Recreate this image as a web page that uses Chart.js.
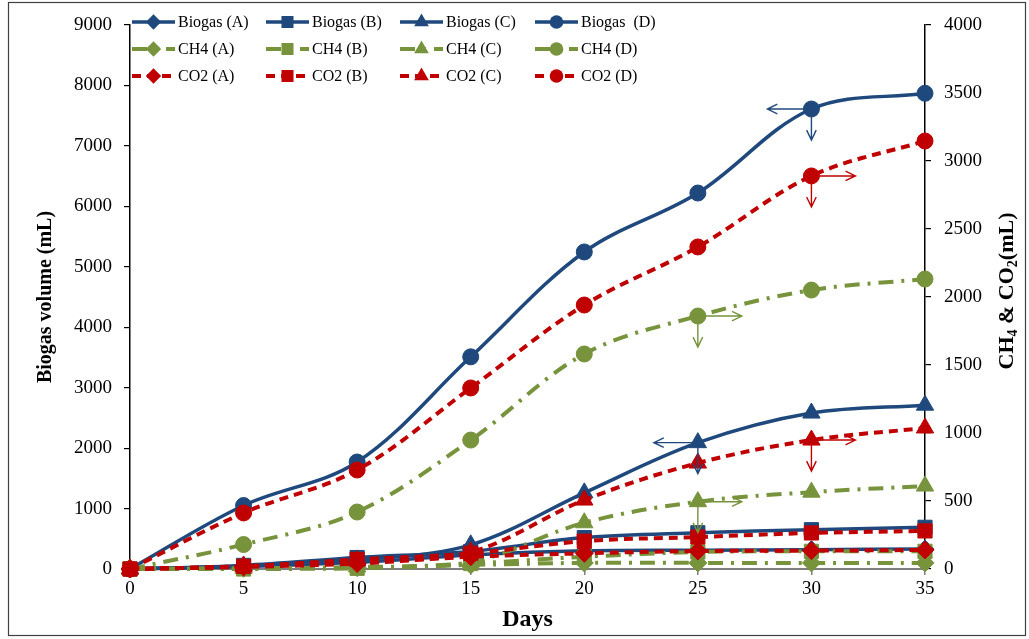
<!DOCTYPE html>
<html>
<head>
<meta charset="utf-8">
<title>Biogas, CH4 and CO2 production</title>
<script src="https://cdn.jsdelivr.net/npm/chart.js@4/dist/chart.umd.min.js"></script>
<style>
  html, body { margin: 0; padding: 0; background: #fff; }
  #wrap { position: relative; width: 1029px; height: 639px; }
</style>
</head>
<body>
<div id="wrap"><canvas id="c" width="1029" height="639"></canvas></div>
<script>
// Cumulative volumes (mL) by day of digestion
const days = [0, 5, 10, 15, 20, 25, 30, 35];

const biogasA = [0, 40, 110, 230, 300, 310, 320, 330];
const biogasB = [0, 60, 190, 290, 520, 600, 650, 690];
const biogasC = [0, 50, 150, 400, 1260, 2090, 2580, 2710];
const biogasD = [0, 1050, 1770, 3510, 5245, 6220, 7610, 7870];

const ch4A = [0, 5, 10, 30, 45, 45, 45, 45];
const ch4B = [0, 0, 5, 40, 90, 125, 130, 130];
const ch4C = [0, 5, 15, 50, 340, 495, 565, 610];
const ch4D = [0, 180, 419, 948, 1581, 1860, 2051, 2132];

const co2A = [0, 15, 40, 90, 115, 132, 135, 140];
const co2B = [0, 20, 70, 115, 205, 235, 265, 280];
const co2C = [0, 20, 60, 125, 507, 779, 948, 1037];
const co2D = [0, 412, 728, 1331, 1941, 2368, 2890, 3147];

const dayTicks = [0, 5, 10, 15, 20, 25, 30, 35];

const FONT = "'Liberation Serif', 'Times New Roman', serif";
const BLUE = '#1F497D';
const GREEN = '#77933C';
const RED = '#C00000';

const gasStyles = {
  biogas: { color: BLUE, dash: [], width: 3.5, axis: 'y', order: 3 },
  ch4: { color: GREEN, dash: [15, 8, 3, 8], width: 4, axis: 'y2', order: 2 },
  co2: { color: RED, dash: [9, 6], width: 4, axis: 'y2', order: 1 }
};
const markers = {
  A: { style: 'rectRot', r: 9 },
  B: { style: 'rect', r: 10 },
  C: { style: 'triangle', r: 10 },
  D: { style: 'circle', r: 8 }
};

function series(label, gas, key, values) {
  const g = gasStyles[gas], m = markers[key];
  return {
    label: label,
    data: days.map((d, i) => ({ x: d, y: values[i] })),
    yAxisID: g.axis,
    order: g.order,
    borderColor: g.color,
    backgroundColor: g.color,
    borderWidth: g.width,
    borderDash: g.dash,
    tension: 0.35,
    pointStyle: m.style,
    pointRadius: m.r,
    pointHoverRadius: m.r,
    pointBackgroundColor: g.color,
    pointBorderColor: g.color,
    pointBorderWidth: 1,
    clip: false,
    fill: false
  };
}

const datasets = [
  series('Biogas (A)', 'biogas', 'A', biogasA),
  series('Biogas (B)', 'biogas', 'B', biogasB),
  series('Biogas (C)', 'biogas', 'C', biogasC),
  series('Biogas  (D)', 'biogas', 'D', biogasD),
  series('CH4 (A)', 'ch4', 'A', ch4A),
  series('CH4 (B)', 'ch4', 'B', ch4B),
  series('CH4 (C)', 'ch4', 'C', ch4C),
  series('CH4 (D)', 'ch4', 'D', ch4D),
  series('CO2 (A)', 'co2', 'A', co2A),
  series('CO2 (B)', 'co2', 'B', co2B),
  series('CO2 (C)', 'co2', 'C', co2C),
  series('CO2 (D)', 'co2', 'D', co2D)
];

// Pointers showing which axis a curve is read against
const axisPointers = [
  { label: 'Biogas  (D)', day: 30, dirs: ['left', 'down'] },
  { label: 'CO2 (D)', day: 30, dirs: ['right', 'down'] },
  { label: 'CH4 (D)', day: 25, dirs: ['right', 'down'] },
  { label: 'Biogas (C)', day: 25, dirs: ['left', 'down'] },
  { label: 'CO2 (C)', day: 30, dirs: ['right', 'down'] },
  { label: 'CH4 (C)', day: 25, dirs: ['right', 'down'] }
];

function drawMarker(ctx, style, x, y, r, color) {
  ctx.save();
  ctx.fillStyle = color;
  ctx.beginPath();
  if (style === 'circle') {
    ctx.arc(x, y, r, 0, Math.PI * 2);
  } else if (style === 'rect') {
    const s = r * Math.SQRT1_2;
    ctx.rect(x - s, y - s, 2 * s, 2 * s);
  } else if (style === 'rectRot') {
    ctx.moveTo(x, y - r); ctx.lineTo(x + r, y); ctx.lineTo(x, y + r); ctx.lineTo(x - r, y);
    ctx.closePath();
  } else if (style === 'triangle') {
    ctx.moveTo(x, y - r);
    ctx.lineTo(x + 0.866 * r, y + 0.5 * r);
    ctx.lineTo(x - 0.866 * r, y + 0.5 * r);
    ctx.closePath();
  }
  ctx.fill();
  ctx.restore();
}

const framePlugin = {
  id: 'frame',
  beforeDraw(chart) {
    const ctx = chart.ctx;
    ctx.save();
    ctx.fillStyle = '#fff';
    ctx.fillRect(0, 0, chart.width, chart.height);
    ctx.strokeStyle = '#404040';
    ctx.lineWidth = 1.2;
    ctx.strokeRect(8.5, 2.5, 1017, 633);
    ctx.restore();
  }
};

const pointerPlugin = {
  id: 'pointers',
  afterDatasetsDraw(chart) {
    const ctx = chart.ctx;
    ctx.save();
    ctx.lineWidth = 1.4;
    axisPointers.forEach(p => {
      const di = chart.data.datasets.findIndex(d => d.label === p.label);
      const idx = days.indexOf(p.day);
      const pt = chart.getDatasetMeta(di).data[idx];
      const color = chart.data.datasets[di].borderColor;
      ctx.strokeStyle = color;
      p.dirs.forEach(dir => {
        let dx = 0, dy = 0;
        if (dir === 'left') dx = -44;
        if (dir === 'right') dx = 44;
        if (dir === 'down') dy = 31;
        const tx = pt.x + dx, ty = pt.y + dy;
        const ang = Math.atan2(dy, dx);
        ctx.beginPath();
        ctx.moveTo(pt.x, pt.y);
        ctx.lineTo(tx, ty);
        ctx.moveTo(tx - 11 * Math.cos(ang - 0.45), ty - 11 * Math.sin(ang - 0.45));
        ctx.lineTo(tx, ty);
        ctx.lineTo(tx - 11 * Math.cos(ang + 0.45), ty - 11 * Math.sin(ang + 0.45));
        ctx.stroke();
      });
    });
    ctx.restore();
  }
};

const legendPlugin = {
  id: 'gridLegend',
  afterDraw(chart) {
    const ctx = chart.ctx;
    const area = chart.chartArea;
    const colX = [2, 136, 270, 405];
    const rowY = [22, 49, 76];
    ctx.save();
    chart.data.datasets.forEach((ds, i) => {
      const col = i % 4, row = Math.floor(i / 4);
      const x0 = area.left + colX[col];
      const y = rowY[row];
      ctx.save();
      ctx.strokeStyle = ds.borderColor;
      ctx.lineWidth = ds.borderWidth;
      ctx.setLineDash(ds.borderDash);
      ctx.beginPath();
      ctx.moveTo(x0, y);
      ctx.lineTo(x0 + 43, y);
      ctx.stroke();
      ctx.restore();
      drawMarker(ctx, ds.pointStyle, x0 + 21.5, y, ds.pointRadius * 0.85, ds.borderColor);
      ctx.fillStyle = '#000';
      ctx.font = '16px ' + FONT;
      ctx.textBaseline = 'middle';
      ctx.textAlign = 'left';
      ctx.fillText(ds.label, x0 + 46, y + 1);
    });
    ctx.restore();
  }
};

// Right-hand axis title with subscripts, reading bottom to top
const rightTitlePlugin = {
  id: 'rightTitle',
  afterDraw(chart) {
    const ctx = chart.ctx;
    const parts = [
      ['CH', false], ['4', true], [' & CO', false], ['2', true], ['(mL)', false]
    ];
    const big = 'bold 22px ' + FONT, small = 'bold 14px ' + FONT;
    let total = 0;
    parts.forEach(p => { ctx.font = p[1] ? small : big; total += ctx.measureText(p[0]).width; });
    ctx.save();
    ctx.translate(1006, 291);
    ctx.rotate(-Math.PI / 2);
    ctx.fillStyle = '#000';
    ctx.textBaseline = 'alphabetic';
    ctx.textAlign = 'left';
    let x = -total / 2;
    parts.forEach(p => {
      ctx.font = p[1] ? small : big;
      ctx.fillText(p[0], x, p[1] ? 11 : 7);
      x += ctx.measureText(p[0]).width;
    });
    ctx.restore();
  }
};

const plainNumber = v => String(v);

new Chart(document.getElementById('c'), {
  type: 'line',
  data: { datasets: datasets },
  options: {
    responsive: false,
    animation: false,
    devicePixelRatio: 1,
    layout: { padding: { top: 25, left: 0, right: 0, bottom: 0 } },
    plugins: {
      legend: { display: false },
      tooltip: { enabled: false },
      title: { display: false }
    },
    scales: {
      x: {
        type: 'linear',
        min: 0, max: 35,
        afterFit(s) { s.height = 70; },
        afterBuildTicks(s) { s.ticks = dayTicks.map(v => ({ value: v })); },
        ticks: { font: { family: FONT, size: 19 }, color: '#000', padding: 3, maxRotation: 0, callback: plainNumber },
        grid: { drawOnChartArea: false, drawTicks: true, tickLength: 6, color: '#7f7f7f', lineWidth: 1.5 },
        border: { display: true, color: '#7f7f7f', width: 2 },
        title: {
          display: true, text: 'Days', color: '#000',
          font: { family: FONT, size: 24, weight: 'bold' },
          padding: { top: 0, bottom: 5 }
        }
      },
      y: {
        position: 'left',
        min: 0, max: 9000,
        afterFit(s) { s.width = 130; },
        ticks: { stepSize: 1000, font: { family: FONT, size: 19 }, color: '#000', padding: 12, callback: plainNumber },
        grid: { drawOnChartArea: false, drawTicks: true, tickLength: 6, color: '#000', lineWidth: 1.2 },
        border: { display: true, color: '#000', width: 1.5 },
        title: {
          display: true, text: 'Biogas volume (mL)', color: '#000',
          font: { family: FONT, size: 20, weight: 'bold' },
          padding: { top: 34, bottom: 0 }
        }
      },
      y2: {
        position: 'right',
        min: 0, max: 4000,
        afterFit(s) { s.width = 104; },
        ticks: { stepSize: 500, font: { family: FONT, size: 19 }, color: '#000', padding: 13, callback: plainNumber },
        grid: { drawOnChartArea: false, drawTicks: true, tickLength: 6, color: '#000', lineWidth: 1.2 },
        border: { display: true, color: '#000', width: 1.5 }
      }
    }
  },
  plugins: [framePlugin, pointerPlugin, legendPlugin, rightTitlePlugin]
});
</script>
</body>
</html>
